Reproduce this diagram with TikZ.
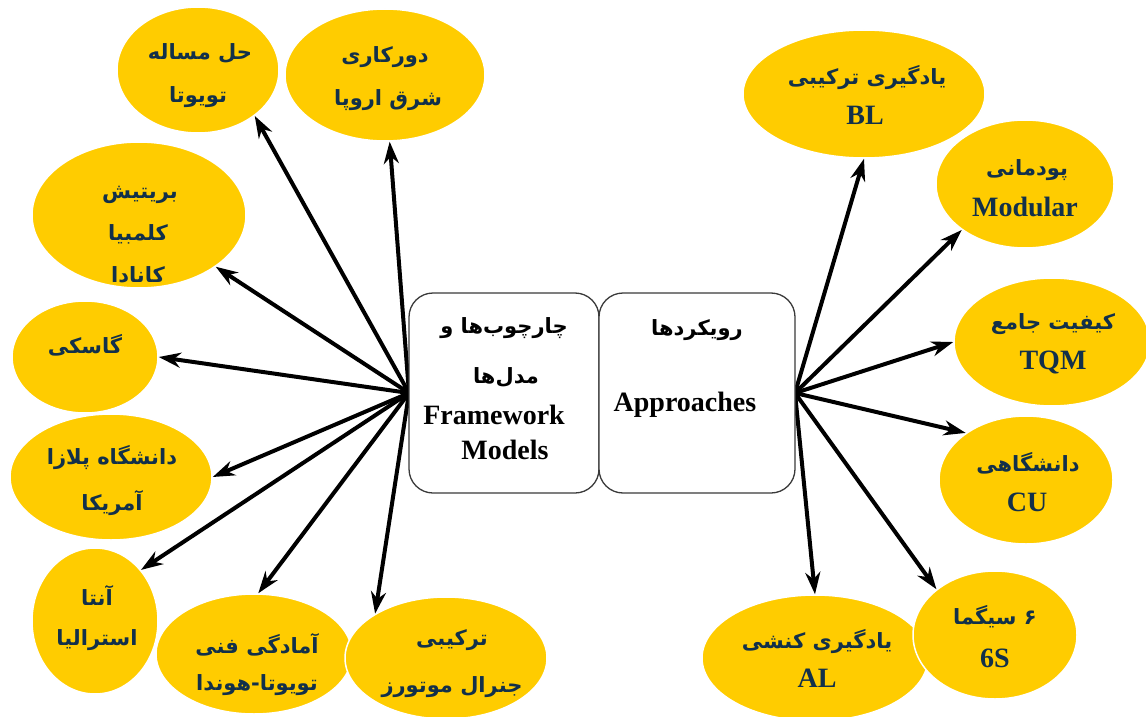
\documentclass[tikz,border=0pt]{standalone}
\usepackage{fontspec}
\setmainfont{Liberation Serif}
\newfontfamily\fa[Script=Arabic]{DejaVu Sans}
\TeXXeTstate=1
\usetikzlibrary{shapes.geometric,arrows.meta}
\definecolor{gold}{HTML}{FFCC00}
\definecolor{navy}{HTML}{12304A}
\definecolor{boxline}{HTML}{3A3A3A}
\tikzset{
  ell/.style={ellipse, fill=gold, draw=white, line width=1.5pt, inner sep=0pt},
  fat/.style={font=\fa\bfseries\fontsize{21}{24}\selectfont, text=navy, inner sep=0pt},
  lat/.style={font=\bfseries\fontsize{28}{32}\selectfont, text=navy, inner sep=0pt},
  bfa/.style={font=\fa\bfseries\fontsize{21}{24}\selectfont, text=black, inner sep=0pt},
  blat/.style={font=\bfseries\fontsize{28}{32}\selectfont, text=black, inner sep=0pt},
  cbox/.style={draw=boxline, line width=1.3pt, rounded corners=24pt, fill=white, inner sep=0pt,
     minimum height=200pt},
  arr/.style={-{Stealth[length=22pt,width=15pt,inset=7pt]}, line width=4pt, draw=black}
}
\begin{document}
\begin{tikzpicture}[x=1pt,y=-1pt]
\useasboundingbox (0,0) rectangle (1146,717);
% left ellipses
\node[ell, minimum width=162pt, minimum height=126pt] (e1) at (198,70) {};
\node[ell, minimum width=200pt, minimum height=132pt] (e2) at (385,75) {};
\node[ell, minimum width=214pt, minimum height=146pt] (e3) at (139,215) {};
\node[ell, minimum width=146pt, minimum height=112pt] (e4) at (85,357) {};
\node[ell, minimum width=202pt, minimum height=126pt] (e5) at (111,477) {};
\node[ell, minimum width=126pt, minimum height=146pt] (e6) at (95,621) {};
\node[ell, minimum width=196pt, minimum height=120pt] (e7) at (254,654) {};
\node[ell, minimum width=202pt, minimum height=122pt] (e8) at (446,658) {};
% right ellipses
\node[ell, minimum width=242pt, minimum height=128pt] (r1) at (864,94) {};
\node[ell, minimum width=178pt, minimum height=128pt] (r2) at (1025,184) {};
\node[ell, minimum width=196pt, minimum height=128pt] (r3) at (1052,342) {};
\node[ell, minimum width=174pt, minimum height=128pt] (r4) at (1026,480) {};
\node[ell, minimum width=226pt, minimum height=126pt] (r6) at (815,658) {};
\node[ell, minimum width=164pt, minimum height=128pt] (r5) at (995,635) {};
% texts left
\node[fat] (e1a) at (200,53) {\beginR حل مساله\endR};
\node[fat] (e1b) at (198,97) {\beginR تویوتا\endR};
\node[fat] (e2a) at (385,57) {\beginR دورکاری\endR};
\node[fat] (e2b) at (388,100) {\beginR شرق اروپا\endR};
\node[fat] (e3a) at (140,195) {\beginR بریتیش\endR};
\node[fat] (e3b) at (138,234) {\beginR کلمبیا\endR};
\node[fat] (e3c) at (138,275) {\beginR کانادا\endR};
\node[fat] (e4a) at (85,345) {\beginR گاسکی\endR};
\node[fat] (e5a) at (112,458) {\beginR دانشگاه پلازا\endR};
\node[fat] (e5b) at (112,503) {\beginR آمریکا\endR};
\node[fat] (e6a) at (97,595) {\beginR آنتا\endR};
\node[fat] (e6b) at (97,640) {\beginR استرالیا\endR};
\node[fat] (e7a) at (257,645) {\beginR آمادگی فنی\endR};
\node[fat] (e7b) at (257,685) {\beginR تویوتا-هوندا\endR};
\node[fat] (e8a) at (452,640) {\beginR ترکیبی\endR};
\node[fat] (e8b) at (452,687) {\beginR جنرال موتورز\endR};
% texts right
\node[fat] (r1a) at (867,78) {\beginR یادگیری ترکیبی\endR};
\node[lat] (r1b) at (865,115) {BL};
\node[fat] (r2a) at (1027,170) {\beginR پودمانی\endR};
\node[lat] (r2b) at (1025,207) {Modular};
\node[fat] (r3a) at (1053,324) {\beginR کیفیت جامع\endR};
\node[lat] (r3b) at (1053,362) {TQM};
\node[fat] (r4a) at (1028,463) {\beginR دانشگاهی\endR};
\node[lat] (r4b) at (1027,502) {CU};
\node[fat] (r5a) at (995,617) {\beginR ۶ سیگما\endR};
\node[lat] (r5b) at (995,658) {6S};
\node[fat] (r6a) at (817,642) {\beginR یادگیری کنشی\endR};
\node[lat] (r6b) at (817,678) {AL};
% hubs
\coordinate (hl) at (409,393);
\coordinate (hr) at (795,393);
% arrows left
\draw[arr] (hl) -- (e1.-39);
\draw[arr] (hl) -- (e2.-86);
\draw[arr] (hl) -- (e3.-34);
\draw[arr] (hl) -- (e4.0);
\draw[arr] (hl) -- (e5.0);
\draw[arr] (hl) -- (e6.48);
\draw[arr] (hl) -- (e7.86);
\draw[arr] (hl) -- (e8.148);
% arrows right
\draw[arr] (hr) -- (r1.-90);
\draw[arr] (hr) -- (r2.-144);
\draw[arr] (hr) -- (r3.180);
\draw[arr] (hr) -- (r4.142);
\draw[arr] (hr) -- (r5.142);
\draw[arr] (hr) -- (r6.90);
% centre boxes
\node[cbox, minimum width=190pt] (bl) at (504,393) {};
\node[cbox, minimum width=196pt] (br) at (697,393) {};
\node[bfa] (bla) at (504,328) {\beginR چارچوب^^^^200cها و\endR};
\node[bfa] (blb) at (506,377) {\beginR مدل^^^^200cها\endR};
\node[blat] (blc) at (494,415) {Framework};
\node[blat] (bld) at (505,450) {Models};
\node[bfa] (bra) at (697,330) {\beginR رویکردها\endR};
\node[blat] (brb) at (685,405) {Approaches};
\end{tikzpicture}
\end{document}
